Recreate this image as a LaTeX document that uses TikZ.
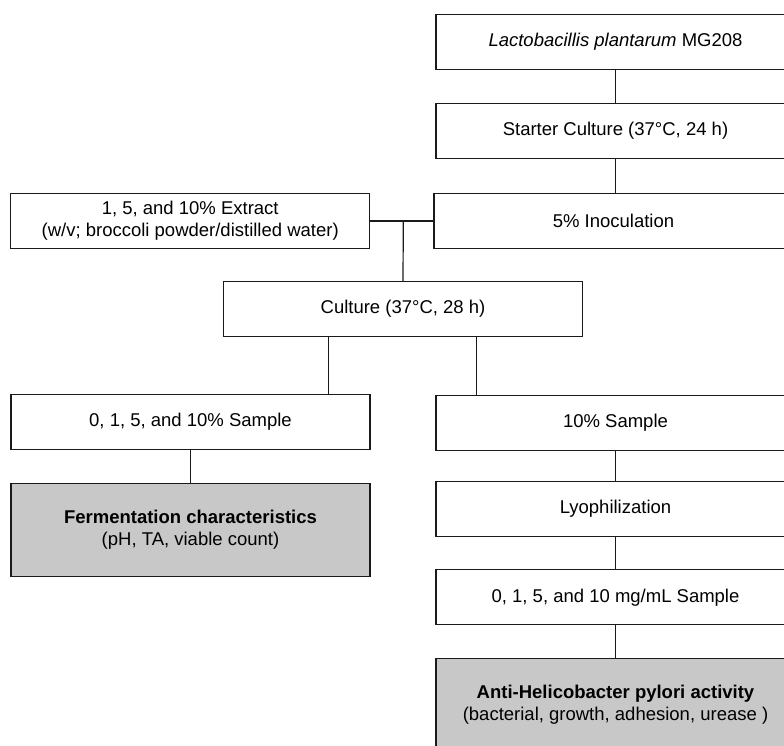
\documentclass[tikz,border=0pt]{standalone}
\usepackage{fontspec}
\setmainfont{Liberation Sans}
\usepackage{xcolor}
\definecolor{BoxGray}{HTML}{C8C8C8}
\definecolor{LineDark}{HTML}{1A1A1A}

\begin{document}
\begin{tikzpicture}[
	x=1pt, y=-1pt,
	step box/.style={
		rectangle,
		draw=LineDark,
		fill=white,
		line width=1.1pt,
		minimum width=359pt,
		minimum height=55pt,
		inner sep=0pt,
		font=\fontsize{18.5}{22}\selectfont,
		align=center
	},
	% Result boxes
	result box/.style={
		step box,
		fill=BoxGray,
		minimum height=93pt
	},
	% Plain connector
	link/.style={
		draw=LineDark,
		line width=1.2pt
	}
	]
	
	\useasboundingbox (0,0) rectangle (784,745);
	\clip (0,0) rectangle (784,745);
	
	% ================= NODES =================
	\node[step box] (lacto) at (615.5, 42.2) {\textit{Lactobacillis plantarum} MG208};
	\node[step box] (starter) at (615.5, 131.2) {Starter Culture (37°C, 24 h)};
	\node[step box] (inoc) at (613.5, 221) {5\% Inoculation};
	\node[step box] (extract) at (190.2, 221) {1, 5, and 10\% Extract\\(w/v; broccoli powder/distilled water)};
	\coordinate (mix) at (403.3, 221);
	
	\node[step box] (culture) at (403, 309.2) {Culture (37°C, 28 h)};
	
	\node[step box] (sampleL) at (190.5, 422.2) {0, 1, 5, and 10\% Sample};
	\node[result box] (ferment) at (190.5, 529.7) {\textbf{Fermentation characteristics}\\(pH, TA, viable count)};
	
	\node[step box] (sampleR) at (615.5, 422.7) {10\% Sample};
	\node[step box] (lyo) at (615.5, 509) {Lyophilization};
	\node[step box] (mgml) at (615.5, 597.3) {0, 1, 5, and 10 mg/mL Sample};
	\node[result box] (anti) at (615.5, 705.2) {\textbf{Anti-Helicobacter pylori activity}\\(bacterial, growth, adhesion, urease )};
	
	% ================= EDGES =================
	\draw[link] (lacto) -- (starter);
	\draw[link] (starter) -- (starter |- inoc.north);
	\draw[link] (extract.east) -- (inoc.west);
	\draw[link] (mix) -- (culture.north);
	\draw[link] ([xshift=-74.5pt]culture.south) -- ([xshift=-74.5pt]culture.south |- sampleL.north);
	\draw[link] ([xshift=73.3pt]culture.south) -- ([xshift=73.3pt]culture.south |- sampleR.north);
	\draw[link] (sampleL) -- (ferment);
	\draw[link] (sampleR) -- (lyo);
	\draw[link] (lyo) -- (mgml);
	\draw[link] (mgml) -- (anti);
	
\end{tikzpicture}
\end{document}
